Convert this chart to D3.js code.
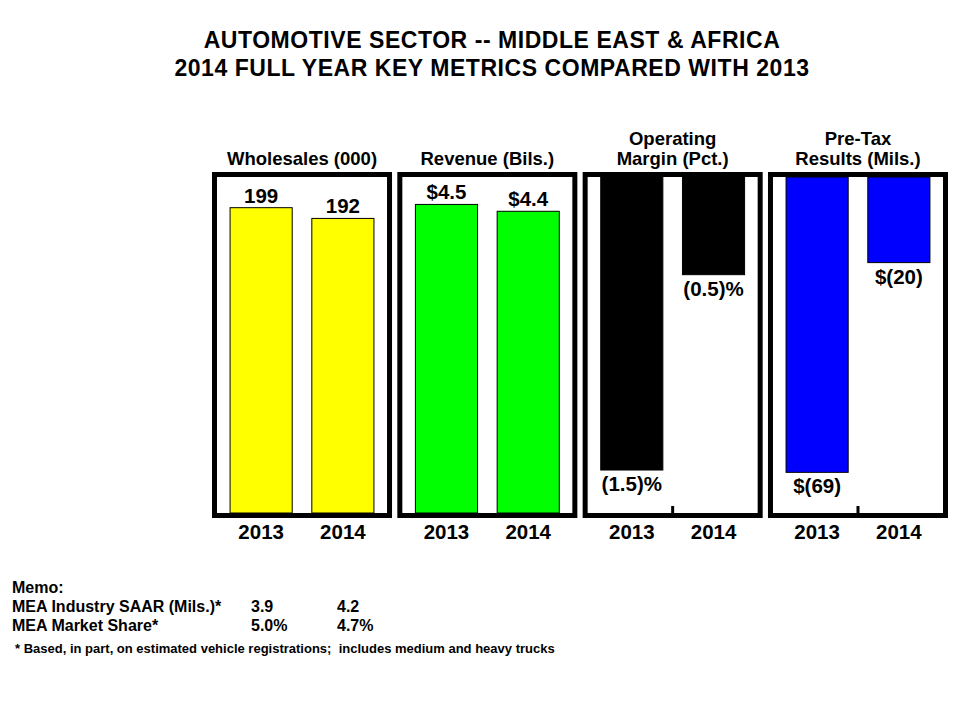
<!DOCTYPE html>
<html>
<head>
<meta charset="utf-8">
<script src="https://cdn.jsdelivr.net/npm/d3@7"></script>
<style>
  html, body { margin: 0; padding: 0; background: #fff; }
  svg { display: block; font-family: "Liberation Sans", Arial, sans-serif; font-weight: bold; }
  text { white-space: pre; }
</style>
</head>
<body>
<svg id="chart" width="960" height="720"></svg>
<script>
// ---- data ----
const titleLines = ["AUTOMOTIVE SECTOR -- MIDDLE EAST & AFRICA", "2014 FULL YEAR KEY METRICS COMPARED WITH 2013"];
const years = ["2013", "2014"];
const panelTitles = [["Wholesales (000)"], ["Revenue (Bils.)"], ["Operating", "Margin (Pct.)"], ["Pre-Tax", "Results (Mils.)"]];
const wholesales = [199, 192];
const revenue = [4.5, 4.4];
const operatingMargin = [-1.5, -0.5];
const pretaxResults = [-69, -20];
const wholesalesLabels = ["199", "192"];
const revenueLabels = ["$4.5", "$4.4"];
const marginLabels = ["(1.5)%", "(0.5)%"];
const pretaxLabels = ["$(69)", "$(20)"];
const panelColors = ["#ffff00", "#00ff00", "#000000", "#0000ff"];
const scaleLimits = [[0, 219], [0, 4.9], [-1.72, 0], [-78.5, 0]];
const memoTitle = "Memo:";
const memoRows = ["MEA Industry SAAR (Mils.)*", "MEA Market Share*"];
const memo2013 = ["3.9", "5.0%"];
const memo2014 = ["4.2", "4.7%"];
const footnote = "* Based, in part, on estimated vehicle registrations;  includes medium and heavy trucks";

const panelValues = [wholesales, revenue, operatingMargin, pretaxResults];
const panelLabels = [wholesalesLabels, revenueLabels, marginLabels, pretaxLabels];

// ---- layout ----
const svg = d3.select("#chart");
const plotTop = 177, plotBottom = 513, border = 5;

svg.append("g").selectAll("text").data(titleLines).join("text")
  .attr("x", 492).attr("y", (d, i) => 48 + i * 28)
  .attr("text-anchor", "middle").attr("font-size", 23).attr("letter-spacing", 0.55).attr("fill", "#000")
  .text(d => d);

const panelX = d3.scaleBand().domain(d3.range(4)).range([212, 948]).paddingInner(0.0286);

panelValues.forEach((vals, p) => {
  const x0 = panelX(p), w = panelX.bandwidth();
  const g = svg.append("g");
  const x = d3.scaleBand().domain(years).range([x0 + border, x0 + w - border]).paddingInner(0.24).paddingOuter(0.16);
  const y = d3.scaleLinear().domain(scaleLimits[p]).range([plotBottom, plotTop]);
  const data = years.map((yr, i) => ({ yr, v: vals[i], label: panelLabels[p][i] }));

  g.selectAll("rect.bar").data(data).join("rect").attr("class", "bar")
    .attr("x", d => x(d.yr)).attr("width", x.bandwidth())
    .attr("y", d => Math.min(y(d.v), y(0)))
    .attr("height", d => Math.abs(y(d.v) - y(0)))
    .attr("fill", panelColors[p]).attr("stroke", "#000").attr("stroke-width", 1);

  g.selectAll("text.val").data(data).join("text").attr("class", "val")
    .attr("x", d => x(d.yr) + x.bandwidth() / 2)
    .attr("y", d => d.v >= 0 ? y(d.v) - 5 : y(d.v) + 21)
    .attr("text-anchor", "middle").attr("font-size", 20.5).attr("fill", "#000")
    .text(d => d.label);

  g.append("rect")
    .attr("x", x0 + border / 2).attr("y", plotTop - border / 2)
    .attr("width", w - border).attr("height", plotBottom - plotTop + border)
    .attr("fill", "none").attr("stroke", "#000").attr("stroke-width", border);

  if (scaleLimits[p][1] <= 0) {
    g.append("line")
      .attr("x1", x0 + w / 2).attr("x2", x0 + w / 2)
      .attr("y1", plotBottom - 7).attr("y2", plotBottom)
      .attr("stroke", "#000").attr("stroke-width", 3);
  }

  const axis = d3.axisBottom(x).tickSize(0).tickPadding(0);
  const ag = g.append("g").attr("transform", `translate(0,${plotBottom})`).call(axis);
  ag.select(".domain").remove();
  ag.attr("font-family", null).attr("font-size", null);
  ag.selectAll("text").attr("font-size", 20.5).attr("font-weight", "bold")
    .attr("fill", "#000").attr("dy", null).attr("y", 26);

  const lines = panelTitles[p];
  g.selectAll("text.ptitle").data(lines).join("text").attr("class", "ptitle")
    .attr("x", x0 + w / 2)
    .attr("y", (d, i) => 165 - (lines.length - 1 - i) * 20)
    .attr("text-anchor", "middle").attr("font-size", 18.5).attr("fill", "#000")
    .text(d => d);
});

const memo = svg.append("g").attr("font-size", 16).attr("fill", "#000");
memo.append("text").attr("x", 12).attr("y", 593).text(memoTitle);
memoRows.forEach((r, i) => {
  const yy = 612 + i * 19;
  memo.append("text").attr("x", 12).attr("y", yy).text(r);
  memo.append("text").attr("x", 251).attr("y", yy).text(memo2013[i]);
  memo.append("text").attr("x", 337).attr("y", yy).text(memo2014[i]);
});
svg.append("text").attr("x", 15).attr("y", 653).attr("font-size", 13).attr("fill", "#000")
  .text(footnote);
</script>
</body>
</html>
